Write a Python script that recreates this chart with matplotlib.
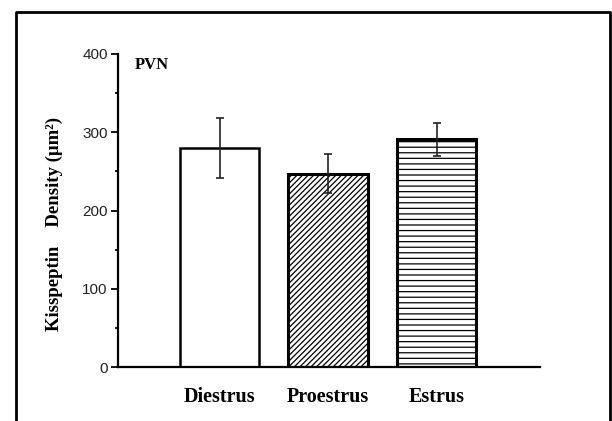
import matplotlib
matplotlib.use('Agg')
import matplotlib.pyplot as plt
from matplotlib.lines import Line2D
from matplotlib.ticker import MultipleLocator

# data
stages = ['Diestrus', 'Proestrus', 'Estrus']
density = [280, 247, 291]
sem = [38, 25, 21]
hatches = ['', '//////', '---']

plt.rcParams['hatch.linewidth'] = 0.9

fig = plt.figure(figsize=(6.12, 4.21), dpi=100)
ax = fig.add_axes([0.192, 0.128, 0.69, 0.744])

x = range(len(stages))
for i in x:
    ax.bar(i, density[i], width=0.73, color='white', edgecolor='black',
           linewidth=1.8 if i == 0 else 2.2, hatch=hatches[i], zorder=2)
ax.errorbar(list(x), density, yerr=sem, fmt='none', ecolor='#222222',
            elinewidth=1.2, capsize=3, capthick=1.2, zorder=3)

ax.set_xlim(-0.94, 2.95)
ax.set_ylim(0, 400)
ax.yaxis.set_major_locator(MultipleLocator(100))
ax.yaxis.set_minor_locator(MultipleLocator(50))

ax.spines['right'].set_color('none')
ax.spines['top'].set_color('none')
ax.spines['left'].set_linewidth(1.6)
ax.spines['bottom'].set_linewidth(1.6)

ax.set_xticks(list(x))
ax.set_xticklabels(stages, fontfamily='Liberation Serif', fontweight='bold',
                   fontsize=14.5)
ax.tick_params(axis='x', length=0, pad=14)
ax.tick_params(axis='y', which='major', direction='out', length=5, width=1.3,
               labelsize=11, pad=2)
ax.tick_params(axis='y', which='minor', direction='out', length=2, width=1.3)
for lab in ax.get_yticklabels():
    lab.set_fontfamily('Liberation Sans')
    lab.set_color('#222222')

ax.set_ylabel('Kisspeptin    Density (\u03bcm\u00b2)', fontfamily='Liberation Serif',
              fontweight='bold', fontsize=13.5)
ax.yaxis.set_label_coords(-0.13, 0.457)

ax.text(0.041, 0.99, 'PVN', transform=ax.transAxes, fontfamily='Liberation Serif',
        fontweight='bold', fontsize=12, va='top', ha='left')

# frame round the figure (left, top, right only)
fig.add_artist(Line2D([16/612, 16/612, 610/612, 610/612],
                      [0, 1 - 12/421, 1 - 12/421, 0],
                      transform=fig.transFigure, color='black', linewidth=2))

plt.savefig('out.png', dpi=100)
